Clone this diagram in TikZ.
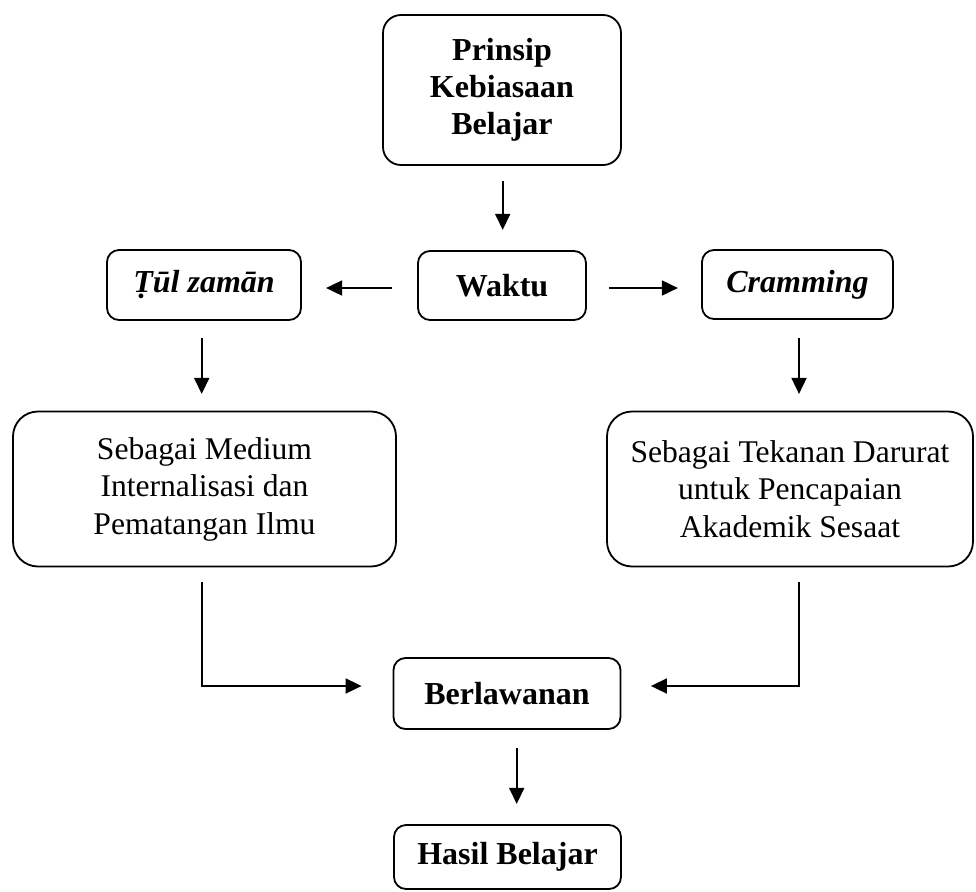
\documentclass[tikz,border=0pt]{standalone}
\usepackage{fontspec}
\setmainfont{Liberation Serif}
\usetikzlibrary{arrows.meta}
\begin{document}
\begin{tikzpicture}[x=1pt,y=-1pt,
  basebox/.style={draw, line width=1.8pt, align=center, inner sep=0pt},
  topbox/.style={basebox, rounded corners=18pt, font=\fontsize{32}{37}\selectfont\bfseries},
  smallbox/.style={basebox, rounded corners=12pt, font=\fontsize{32}{37}\selectfont\bfseries},
  bigbox/.style={basebox, rounded corners=25pt, font=\fontsize{31.6}{37.5}\selectfont},
  arr/.style={line width=1.8pt, -{Triangle[width=15pt,length=16pt]}}]
\useasboundingbox (0,0) rectangle (976,891);

\node[topbox, minimum width=238pt, minimum height=150pt] (P) at (502,90) {Prinsip\\Kebiasaan\\Belajar};
\node[smallbox, minimum width=168pt, minimum height=69pt] (W) at (502,285.5) {Waktu};
\node[smallbox, minimum width=194pt, minimum height=70pt] (T) at (204,285) {\itshape Ṭūl zamān};
\node[smallbox, minimum width=191pt, minimum height=69pt] (C) at (797.5,284.5) {\itshape Cramming};
\node[bigbox, minimum width=383pt, minimum height=155pt] (L) at (204.5,489) {Sebagai Medium\\Internalisasi dan\\Pematangan Ilmu};
\node[bigbox, minimum width=366pt, minimum height=155pt] (R) at (790,489) {Sebagai Tekanan Darurat\\untuk Pencapaian\\Akademik Sesaat};
\node[smallbox, minimum width=227pt, minimum height=71pt] (B) at (507,693.5) {Berlawanan};
\node[smallbox, minimum width=227pt, minimum height=64pt] (H) at (507.5,857) {Hasil Belajar};

\draw[arr] ([shift={(0.7pt,-15pt)}]P.south) -- ++(0,49);
\draw[arr] ([shift={(-25pt,-2.5pt)}]W.west) -- ++(-66,0);
\draw[arr] ([shift={(22pt,-2.5pt)}]W.east) -- ++(69,0);
\draw[arr] ([shift={(-2.3pt,-17pt)}]T.south) -- ++(0,56);
\draw[arr] ([shift={(1.5pt,-18pt)}]C.south) -- ++(0,56);
\draw[arr] ([shift={(-2.5pt,-15pt)}]L.south) |- ([shift={(-31pt,7.5pt)}]B.west);
\draw[arr] ([shift={(9pt,-15pt)}]R.south) |- ([shift={(29.5pt,7.5pt)}]B.east);
\draw[arr] ([shift={(9.7pt,-17.7pt)}]B.south) -- ++(0,56.3);
\end{tikzpicture}
\end{document}
